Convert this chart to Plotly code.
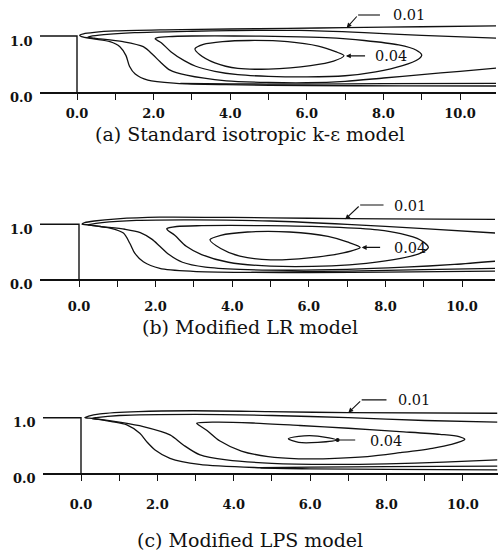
import plotly.graph_objects as go

# ---------------- data ----------------
X_TICK_VALUES = [0, 1, 2, 3, 4, 5, 6, 7, 8, 9, 10]
X_TICK_TEXT = ["0.0", "", "2.0", "", "4.0", "", "6.0", "", "8.0", "", "10.0"]
Y_TICK_VALUES = [0.0, 1.0]
Y_TICK_TEXT = ["0.0", "1.0"]
STEP_X = [-1.2, 0.0, 0.0]
STEP_Y = [1.0, 1.0, 0.0]
LEVEL_LABELS = ["0.01", "0.04"]
CAPTIONS = ["(a) Standard isotropic k-\u03b5 model",
            "(b) Modified LR model",
            "(c) Modified LPS model"]

# (a) Standard isotropic k-e model : contour lines (x/H, y/H)
A_C1 = [(11.0, 1.18), (9.0, 1.165), (7.0, 1.15), (5.5, 1.135), (4.0, 1.125), (2.3, 1.11),
        (1.0, 1.09), (0.45, 1.065), (0.17, 1.04), (0.07, 1.015), (0.12, 0.99), (0.43, 0.95),
        (0.86, 0.9), (1.12, 0.81), (1.28, 0.65), (1.37, 0.46), (1.52, 0.32), (1.85, 0.21),
        (2.6, 0.155), (3.9, 0.13), (6.0, 0.115), (8.5, 0.11), (11.0, 0.107)]
A_C2 = [(11.0, 0.96), (9.0, 1.01), (7.5, 1.06), (5.8, 1.1), (4.0, 1.095), (3.0, 1.085),
        (1.5, 1.06), (0.7, 1.025), (0.35, 0.995), (0.28, 0.98), (0.45, 0.96), (0.6, 0.95),
        (1.2, 0.9), (1.73, 0.81), (1.99, 0.66), (2.17, 0.54), (2.43, 0.39), (2.86, 0.3),
        (3.9, 0.2), (5.0, 0.17), (6.0, 0.165), (7.0, 0.19), (8.0, 0.25), (9.0, 0.31),
        (10.0, 0.37), (11.0, 0.43)]
A_E = [(2.7, 0.155), (4.0, 0.145), (6.0, 0.14), (8.0, 0.148), (11.0, 0.155)]
A_C3 = [(2.04, 0.95), (2.2, 0.88), (2.45, 0.72), (2.8, 0.56), (3.1, 0.46), (3.6, 0.37),
        (4.2, 0.31), (5.0, 0.28), (6.0, 0.27), (7.0, 0.29), (7.8, 0.36), (8.5, 0.47),
        (8.9, 0.58), (9.0, 0.66), (8.85, 0.75), (8.4, 0.84), (7.5, 0.92), (6.5, 0.97),
        (5.5, 0.99), (4.1, 1.0), (3.0, 1.0), (2.4, 0.99), (2.1, 0.97), (2.04, 0.95)]
A_C4 = [(3.08, 0.77), (3.3, 0.85), (3.8, 0.9), (4.5, 0.92), (5.5, 0.9), (6.3, 0.82),
        (6.75, 0.72), (6.97, 0.65), (6.7, 0.55), (6.1, 0.47), (5.0, 0.41), (4.2, 0.42),
        (3.6, 0.52), (3.2, 0.67), (3.08, 0.77)]

# (b) Modified LR model
B_C1 = [(10.9, 1.09), (8.0, 1.1), (6.0, 1.11), (4.0, 1.125), (2.1, 1.13), (1.0, 1.1),
        (0.4, 1.06), (0.15, 1.03), (0.08, 1.005), (0.29, 0.985), (0.81, 0.93), (1.16, 0.84),
        (1.33, 0.65), (1.46, 0.47), (1.68, 0.32), (2.11, 0.2), (2.98, 0.145), (4.5, 0.125),
        (6.0, 0.12), (8.0, 0.13), (10.9, 0.15)]
B_C2 = [(10.9, 0.84), (9.0, 0.92), (7.0, 1.0), (5.0, 1.06), (3.0, 1.08), (1.5, 1.07),
        (0.6, 1.03), (0.3, 1.0), (0.24, 0.99), (0.55, 0.96), (1.2, 0.91), (1.6, 0.85),
        (1.9, 0.73), (2.11, 0.6), (2.35, 0.45), (2.7, 0.31), (3.3, 0.22), (4.2, 0.18),
        (5.5, 0.165), (7.0, 0.18), (8.5, 0.22), (9.8, 0.27), (10.9, 0.33)]
B_E = [(4.5, 0.125), (5.5, 0.135), (7.0, 0.15), (9.0, 0.175), (10.9, 0.2)]
B_C3 = [(2.29, 0.92), (2.55, 0.96), (3.2, 0.975), (4.9, 0.975), (6.6, 0.95), (7.8, 0.9),
        (8.4, 0.83), (8.9, 0.72), (9.12, 0.58), (8.9, 0.47), (8.4, 0.38), (7.5, 0.29),
        (6.6, 0.245), (5.0, 0.24), (3.9, 0.31), (3.2, 0.45), (2.8, 0.6), (2.5, 0.8),
        (2.32, 0.89), (2.29, 0.92)]
B_C4 = [(3.42, 0.72), (3.7, 0.8), (4.4, 0.86), (5.5, 0.86), (6.5, 0.78), (7.0, 0.68),
        (7.34, 0.58), (6.9, 0.48), (6.0, 0.39), (5.0, 0.355), (4.2, 0.42), (3.7, 0.56),
        (3.42, 0.72)]

# (c) Modified LPS model
C_C1 = [(10.9, 1.08), (7.0, 1.09), (4.9, 1.11), (2.9, 1.125), (1.5, 1.11), (0.5, 1.07),
        (0.2, 1.03), (0.1, 1.0), (0.32, 0.985), (0.8, 0.93), (1.2, 0.87), (1.54, 0.72),
        (1.72, 0.57), (1.94, 0.42), (2.33, 0.27), (3.1, 0.16), (4.7, 0.1), (6.0, 0.08),
        (8.0, 0.07), (10.9, 0.06)]
C_C2 = [(10.9, 0.92), (9.0, 0.95), (7.0, 1.0), (5.0, 1.04), (3.0, 1.06), (1.0, 1.04),
        (0.4, 1.0), (0.28, 0.985), (0.5, 0.97), (1.0, 0.92), (1.63, 0.84), (2.33, 0.69),
        (2.68, 0.51), (3.12, 0.33), (3.81, 0.24), (5.0, 0.18), (6.5, 0.16), (8.0, 0.17),
        (9.5, 0.2), (10.9, 0.24)]
C_E = [(4.7, 0.1), (6.0, 0.11), (8.0, 0.12), (10.9, 0.13)]
C_C3 = [(3.03, 0.9), (3.5, 0.92), (4.5, 0.905), (5.73, 0.86), (7.0, 0.81), (8.35, 0.75),
        (9.4, 0.7), (9.9, 0.66), (10.05, 0.61), (9.7, 0.52), (9.2, 0.45), (8.35, 0.37),
        (7.5, 0.3), (6.5, 0.265), (5.7, 0.26), (4.9, 0.3), (4.2, 0.4), (3.64, 0.58),
        (3.3, 0.77), (3.08, 0.87), (3.03, 0.9)]
C_C4 = [(5.43, 0.62), (5.7, 0.665), (6.2, 0.67), (6.69, 0.6), (6.2, 0.555), (5.7, 0.555),
        (5.43, 0.62)]

# ---------------- layout / style ----------------
W, H = 501, 552
INK = "#111111"
SERIF = "DejaVu Serif"

PANELS = [
    dict(lines=[A_C1, A_C2, A_E, A_C3, A_C4],
         xrange=[-0.966, 10.94], xdom_px=[40, 496], y0_px=92, y1_px=36, top_px=0,
         lbl01=dict(tip=(7.04, 1.145), knee=(7.34, 1.375), end=7.91, text=(8.2, 1.375)),
         lbl04=dict(tip=(7.02, 0.645), tail=(7.56, 0.645), text=(7.73, 0.635)),
         head04=2, caption_px=134, standoff=3),
    dict(lines=[B_C1, B_C2, B_E, B_C3, B_C4],
         xrange=[-1.018, 10.86], xdom_px=[40, 495], y0_px=279.3, y1_px=224.3, top_px=180,
         lbl01=dict(tip=(6.95, 1.09), knee=(7.34, 1.35), end=7.95, text=(8.16, 1.33)),
         lbl04=dict(tip=(7.38, 0.58), tail=(7.9, 0.58), text=(8.16, 0.565)),
         head04=2, caption_px=327, standoff=8),
    dict(lines=[C_C1, C_C2, C_E, C_C3, C_C4],
         xrange=[-0.995, 10.92], xdom_px=[43, 498], y0_px=473.3, y1_px=417.7, top_px=380,
         lbl01=dict(tip=(7.0, 1.09), knee=(7.35, 1.32), end=8.0, text=(8.26, 1.32)),
         lbl04=dict(tip=(6.72, 0.6), tail=(7.22, 0.6), text=(7.52, 0.59)),
         head04=6, caption_px=540, standoff=12),
]

fig = go.Figure()
annotations = []
shapes = []

for i, p in enumerate(PANELS):
    sfx = "" if i == 0 else str(i + 1)
    xa, ya = "x" + sfx, "y" + sfx
    unit = p["y0_px"] - p["y1_px"]
    ytop = (p["y0_px"] - p["top_px"]) / unit

    for ln in p["lines"]:
        fig.add_trace(go.Scatter(
            x=[pt[0] for pt in ln], y=[pt[1] for pt in ln], mode="lines",
            line=dict(color=INK, width=1.3, shape="spline", smoothing=0.8),
            xaxis=xa, yaxis=ya, hoverinfo="skip", showlegend=False))
    fig.add_trace(go.Scatter(x=STEP_X, y=STEP_Y, mode="lines",
                             line=dict(color=INK, width=1.4),
                             xaxis=xa, yaxis=ya, hoverinfo="skip", showlegend=False))

    fig.update_layout(**{
        "xaxis" + sfx: dict(
            domain=[p["xdom_px"][0] / W, p["xdom_px"][1] / W], range=p["xrange"],
            anchor=ya, showline=True, linecolor=INK, linewidth=1.6, mirror=False,
            ticks="outside", ticklen=6, tickwidth=1.2, tickcolor=INK,
            tickvals=X_TICK_VALUES, ticktext=X_TICK_TEXT, ticklabelstandoff=p["standoff"],
            tickfont=dict(family=SERIF, size=13, color=INK, weight="bold"),
            showgrid=False, zeroline=False, fixedrange=True),
        "yaxis" + sfx: dict(
            domain=[1 - p["y0_px"] / H, 1 - p["top_px"] / H], range=[0, ytop],
            anchor=xa, showline=False, showticklabels=False, ticks="",
            showgrid=False, zeroline=False, fixedrange=True),
    })

    # y labels
    for v, t in zip(Y_TICK_VALUES, Y_TICK_TEXT):
        annotations.append(dict(x=p["xrange"][0], y=v, xref=xa, yref=ya, text=t,
                                showarrow=False, xanchor="right", yanchor="middle",
                                xshift=-5, yshift=-5,
                                font=dict(family=SERIF, size=13, color=INK, weight="bold")))

    # 0.01 label with bent leader
    l1 = p["lbl01"]
    annotations.append(dict(x=l1["tip"][0], y=l1["tip"][1], ax=l1["knee"][0], ay=l1["knee"][1],
                            xref=xa, yref=ya, axref=xa, ayref=ya, text="", showarrow=True,
                            arrowhead=2, arrowsize=0.9, arrowwidth=1.1, arrowcolor=INK))
    shapes.append(dict(type="line", xref=xa, yref=ya, x0=l1["knee"][0], y0=l1["knee"][1],
                       x1=l1["end"], y1=l1["knee"][1], line=dict(color=INK, width=1.1)))
    annotations.append(dict(x=l1["text"][0], y=l1["text"][1], xref=xa, yref=ya,
                            text=LEVEL_LABELS[0], showarrow=False, xanchor="left",
                            yanchor="middle", font=dict(family=SERIF, size=14.5, color=INK)))
    # 0.04 label
    l4 = p["lbl04"]
    annotations.append(dict(x=l4["tip"][0], y=l4["tip"][1], ax=l4["tail"][0], ay=l4["tail"][1],
                            xref=xa, yref=ya, axref=xa, ayref=ya, text="", showarrow=True,
                            arrowhead=p["head04"], arrowsize=0.9, arrowwidth=1.1,
                            arrowcolor=INK))
    annotations.append(dict(x=l4["text"][0], y=l4["text"][1], xref=xa, yref=ya,
                            text=LEVEL_LABELS[1], showarrow=False, xanchor="left",
                            yanchor="middle", font=dict(family=SERIF, size=14.5, color=INK)))
    # caption
    annotations.append(dict(x=250 / W, y=1 - p["caption_px"] / H, xref="paper", yref="paper",
                            text=CAPTIONS[i], showarrow=False, xanchor="center",
                            yanchor="middle", font=dict(family=SERIF, size=19, color=INK)))

fig.update_layout(width=W, height=H, margin=dict(l=0, r=0, t=0, b=0),
                  paper_bgcolor="white", plot_bgcolor="white", showlegend=False,
                  annotations=annotations, shapes=shapes)

fig.write_html("out.html")
